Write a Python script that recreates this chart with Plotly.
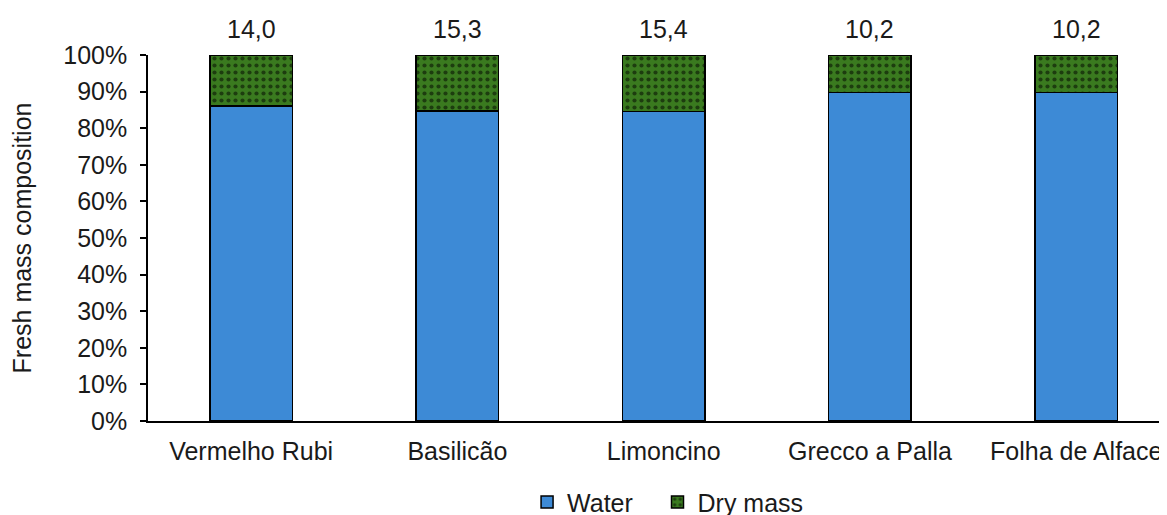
import plotly.graph_objects as go

categories = ["Vermelho Rubi", "Basilicão", "Limoncino", "Grecco a Palla", "Folha de Alface"]
dry_mass = [14.0, 15.3, 15.4, 10.2, 10.2]
water = [100 - d for d in dry_mass]
y_ticks = [0, 10, 20, 30, 40, 50, 60, 70, 80, 90, 100]
y_tick_labels = [f"{t}%" for t in y_ticks]
top_labels = [f"{d:.1f}".replace(".", ",") for d in dry_mass]

font_family = "Liberation Sans, Arial, sans-serif"
text_color = "#1a1a1a"
green = "#3a7a1f"
blue = "#3d8ad6"
fs = 25

fig = go.Figure()
fig.add_trace(go.Bar(
    x=categories, y=water, name="Water", legend="legend",
    marker=dict(color=blue, line=dict(color="black", width=1.5)),
    width=0.4,
))
fig.add_trace(go.Bar(
    x=categories, y=dry_mass, name="Dry mass", legend="legend2",
    marker=dict(color=green, line=dict(color="black", width=1.5),
                pattern=dict(shape=".", fgcolor="black", bgcolor=green, size=7, solidity=0.28)),
    width=0.4,
))

for c, lab in zip(categories, top_labels):
    fig.add_annotation(x=c, y=100, text=lab, showarrow=False, yanchor="bottom", yshift=10,
                       font=dict(size=fs, color=text_color, family=font_family))

legend_common = dict(orientation="h", xanchor="left", y=-0.222, yanchor="middle",
                     font=dict(size=fs), itemwidth=30, bgcolor="rgba(0,0,0,0)")

fig.update_layout(
    barmode="stack",
    width=1159, height=507,
    margin=dict(l=140, r=0, t=47, b=94, autoexpand=False),
    plot_bgcolor="white", paper_bgcolor="white",
    font=dict(family=font_family, color=text_color, size=fs),
    showlegend=True,
    legend=dict(x=0.372, **legend_common),
    legend2=dict(x=0.500, **legend_common),
    xaxis=dict(range=[-0.5, 4.44], showline=True, linecolor="black", linewidth=1.5,
               ticks="", tickfont=dict(size=fs), showgrid=False, automargin=False,
               ticklabelstandoff=7),
    yaxis=dict(range=[0, 100], tickvals=y_ticks, ticktext=y_tick_labels,
               showline=True, linecolor="black", linewidth=1.5, ticks="outside",
               ticklen=6, tickcolor="black", tickwidth=1.5, showgrid=False,
               tickfont=dict(size=fs), automargin=False, ticklabelstandoff=8,
               title=dict(text="Fresh mass composition", font=dict(size=fs), standoff=33)),
)

fig.write_html("out.html")
